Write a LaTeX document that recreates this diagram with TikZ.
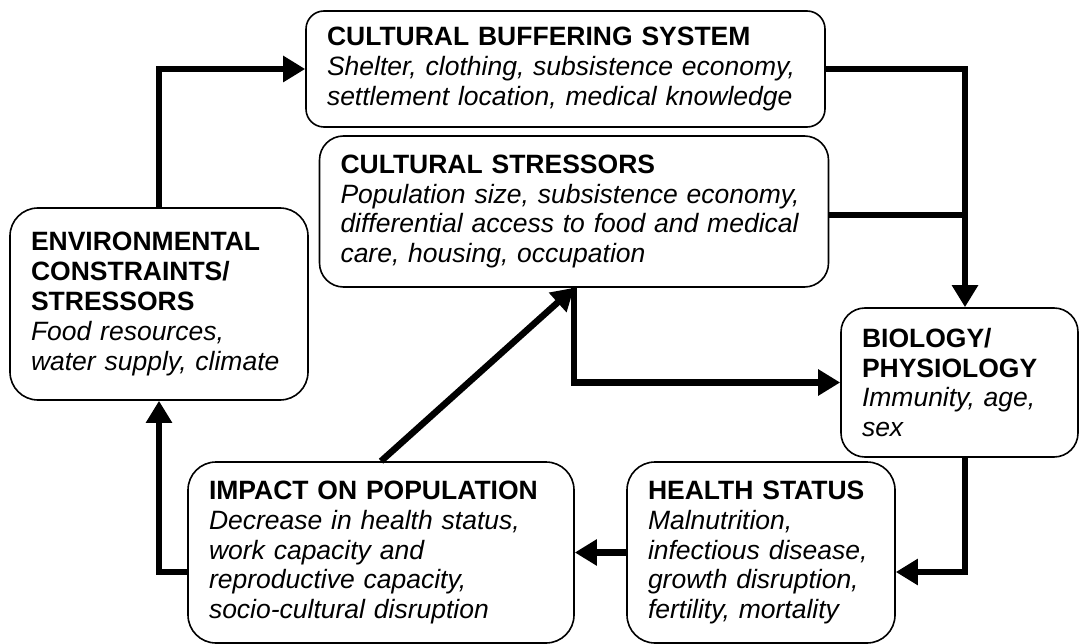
\documentclass[tikz,border=0pt]{standalone}
\usepackage{fontspec}
\setmainfont{Liberation Sans}
\usetikzlibrary{arrows.meta}

\begin{document}
\begin{tikzpicture}[
    x=1pt, y=-1pt,
    block/.style={rectangle, draw, rounded corners=24pt, line width=1.6pt, align=left, inner xsep=21pt, inner ysep=0pt, font=\fontsize{26.5}{29.8}\selectfont},
    flow/.style={line width=6.5pt, -{Triangle[length=22pt, width=25pt]}},
    link/.style={line width=6.5pt}
]
    \useasboundingbox (0,0) rectangle (1081,644);

    % Cultural side
    \node[block, rounded corners=18pt, text width=477pt, minimum height=116pt] (buffer) at (565.5,69)
        {\textbf{CULTURAL BUFFERING SYSTEM}\\ \itshape Shelter, clothing, subsistence economy,\\ settlement location, medical knowledge};
    \node[block, text width=467pt, minimum height=151pt] (stress) at (574,211.5)
        {\textbf{CULTURAL STRESSORS}\\ \itshape Population size, subsistence economy,\\ differential access to food and medical\\ care, housing, occupation};

    % Environment
    \node[block, rounded corners=28pt, text width=256pt, minimum height=192pt] (env) at (159,304)
        {\textbf{ENVIRONMENTAL}\\ \textbf{CONSTRAINTS/}\\ \textbf{STRESSORS}\\ \itshape Food resources,\\ water supply, climate};

    % Biology and outcomes
    \node[block, text width=195pt, minimum height=149pt] (bio) at (959.5,382.5)
        {\textbf{BIOLOGY/}\\ \textbf{PHYSIOLOGY}\\ \itshape Immunity, age,\\ sex};
    \node[block, rounded corners=28pt, text width=226pt, minimum height=181pt] (health) at (761,552.5)
        {\textbf{HEALTH STATUS}\\ \itshape Malnutrition,\\ infectious disease,\\ growth disruption,\\ fertility, mortality};
    \node[block, rounded corners=28pt, text width=344pt, minimum height=181pt] (impact) at (381,552.5)
        {\textbf{IMPACT ON POPULATION}\\ \itshape Decrease in health status,\\ work capacity and\\ reproductive capacity,\\ socio-cultural disruption};

    \coordinate (split) at (965,215);

    % Arrows
    \draw[flow] (env.north) |- (buffer.west);
    \draw[flow] (buffer.east) -| (split) -- (split |- bio.north);
    \draw[link] ([yshift=-3.5pt]stress.east) -- (split);
    \draw[flow] ([xshift=5.5pt]bio.south) |- ([yshift=-19.5pt]health.east);
    \draw[flow] (health.west) -- (impact.east);
    \draw[flow] ([yshift=-19.5pt]impact.west) -| (env.south);
    \draw[flow] (impact.north) -- (stress.south);
    \draw[flow] (stress.south) |- (bio.west);
\end{tikzpicture}
\end{document}
